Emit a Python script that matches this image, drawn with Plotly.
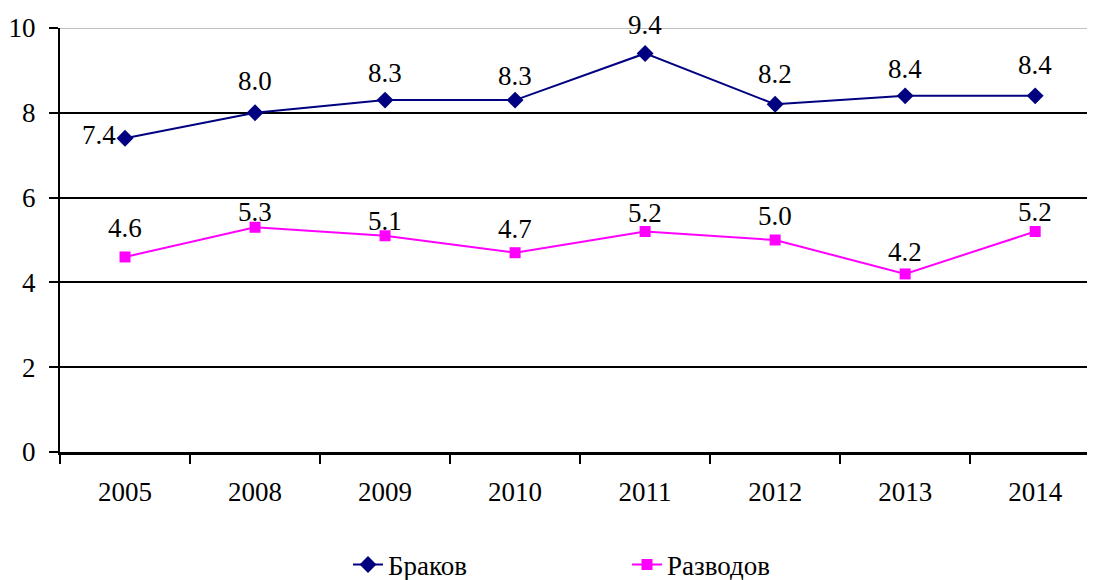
import plotly.graph_objects as go

years = ["2005", "2008", "2009", "2010", "2011", "2012", "2013", "2014"]
marriages = [7.4, 8.0, 8.3, 8.3, 9.4, 8.2, 8.4, 8.4]
divorces = [4.6, 5.3, 5.1, 4.7, 5.2, 5.0, 4.2, 5.2]
y_ticks = [0, 2, 4, 6, 8, 10]

# label offsets (style only)
marr_dx = [-26, 0, 0, 0, 0, 0, 0, 0]
marr_dy = [3, 31.5, 27, 24, 28, 30, 27, 31]
div_dy = [28.5, 15, 15, 23.5, 18.5, 24.5, 21.5, 20]

FONT = "Times New Roman, Liberation Serif, DejaVu Serif, serif"
fig = go.Figure()
fig.add_trace(go.Scatter(
    x=years, y=marriages, name="Браков", mode="lines+markers",
    line=dict(color="#000080", width=2),
    marker=dict(symbol="diamond", size=13, color="#000080"),
))
fig.add_trace(go.Scatter(
    x=years, y=divorces, name="Разводов", mode="lines+markers",
    line=dict(color="#FF00FF", width=2),
    marker=dict(symbol="square", size=11, color="#FF00FF"),
))

ann = []
for i, v in enumerate(marriages):
    ann.append(dict(x=i, y=v, xref="x", yref="y", text=f"{v:.1f}", showarrow=False,
                    xshift=marr_dx[i], yshift=marr_dy[i],
                    font=dict(family=FONT, size=27, color="black")))
for i, v in enumerate(divorces):
    ann.append(dict(x=i, y=v, xref="x", yref="y", text=f"{v:.1f}", showarrow=False,
                    yshift=div_dy[i],
                    font=dict(family=FONT, size=27, color="black")))

fig.update_layout(
    width=1087, height=572,
    margin=dict(l=52, r=0, t=20, b=128),
    paper_bgcolor="white", plot_bgcolor="white",
    font=dict(family=FONT, size=27, color="black"),
    annotations=ann,
    showlegend=True,
    legend=dict(orientation="h", x=(348 - 60) / 1035, xanchor="left",
                yref="container", y=1 - 557 / 572, yanchor="middle",
                entrywidth=234, entrywidthmode="pixels",
                font=dict(family=FONT, size=27, color="black"),
                bgcolor="rgba(0,0,0,0)"),
    shapes=[dict(type="line", xref="paper", yref="y", x0=0, x1=1, y0=10, y1=10,
                 line=dict(color="#BFBFBF", width=2), layer="between")],
)
fig.update_xaxes(
    type="category", range=[-0.5, 7.46], tickson="boundaries",
    ticks="outside", ticklen=9, tickwidth=2, tickcolor="black",
    showline=True, linecolor="black", linewidth=3, showgrid=False,
    ticklabelstandoff=14,
)
fig.update_yaxes(
    range=[0, 10], tickvals=y_ticks, ticks="outside", ticklen=9, tickwidth=2,
    tickcolor="black", showline=True, linecolor="black", linewidth=2,
    showgrid=True, gridcolor="black", gridwidth=2, zeroline=False,
    ticklabelstandoff=8,
)
fig.write_html("out.html")
